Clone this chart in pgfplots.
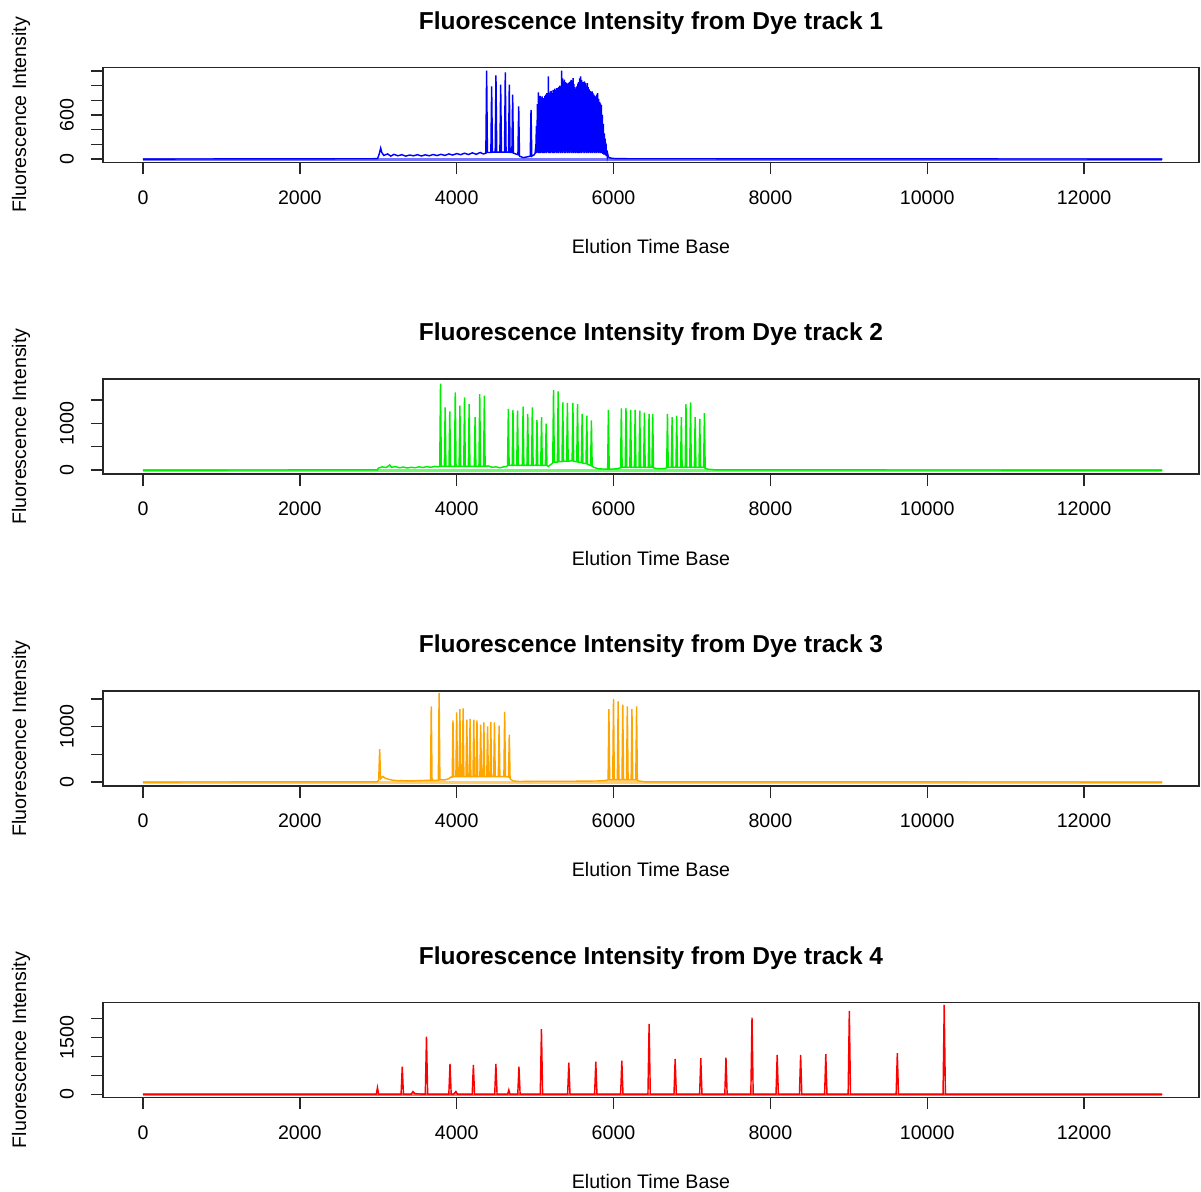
\documentclass[border=0pt]{standalone}
\usepackage{pgfplots}
\pgfplotsset{compat=1.18}
\usepackage{fontspec}
\setmainfont{Liberation Sans}

\definecolor{rblue}{HTML}{0000FF}
\definecolor{rgreen}{HTML}{00EE00}
\definecolor{rorange}{HTML}{FFA500}
\definecolor{rred}{HTML}{FF0000}

\pgfplotsset{
  dye/.style={
    scale only axis, width=548pt, height=47.5pt, anchor=south west,
    xmin=-510, xmax=13466,
    xtick={0,2000,...,12000},
    scaled ticks=false,
    /pgf/number format/assume math mode=true,
    /pgf/number format/1000 sep={},
    tick align=outside, major tick length=6pt,
    axis line style={line width=0.8pt, black!85},
    tick style={line width=0.7pt, black!85},
    xtick pos=bottom, ytick pos=left,
    tick label style={font=\fontsize{9.8}{11}\selectfont},
    xticklabel style={anchor=center, yshift=-11.5pt},
    yticklabel style={xshift=-12pt, rotate=90, anchor=center},
    every axis title/.style={at={(axis description cs:0.5,1)}, anchor=center, yshift=22.3pt,
      font=\bfseries\fontsize{12.25}{14}\selectfont},
    xlabel={Elution Time Base},
    ylabel={Fluorescence Intensity},
    every axis x label/.style={at={(axis description cs:0.5,0)}, anchor=center, yshift=-42pt,
      font=\fontsize{9.8}{11}\selectfont},
    every axis y label/.style={at={(axis description cs:0,0.5)}, xshift=-41pt, rotate=90, anchor=center,
      font=\fontsize{9.8}{11}\selectfont},
  },
  trace/.style={line width=0.72pt, #1},
  base/.style={line width=1.5pt, #1!55!white},
}

\begin{document}
\begin{tikzpicture}

% track 1
\begin{axis}[dye, at={(51.5pt,514.8pt)},
  title={Fluorescence Intensity from Dye track 1},
  ymin=-45, ymax=1250, ytick={0,200,...,1200}, yticklabels={0,,,600,,,}]
\addplot[base=rblue] coordinates {(0,0)(13000,0)};
\addplot[trace=rblue] coordinates {
(0,0)(2990,5)(3010,60)(3031,150)(3045,90)(3070,50)(3120,70)(3160,40)(3200,65)(3250,45)
(3300,60)(3350,40)(3400,55)(3450,45)(3500,60)(3550,42)(3600,58)(3650,45)(3700,62)(3750,48)
(3800,65)(3850,50)(3900,70)(3950,55)(4000,75)(4050,60)(4100,80)(4150,62)(4200,85)(4250,65)
(4300,90)(4340,70)(4372,80)(4382,1205)(4392,90)(4436,90)(4446,991)(4456,95)(4491,95)(4501,1141)
(4511,95)(4551,95)(4561,1014)(4571,95)(4610,95)(4620,1183)(4630,95)(4661,95)(4671,1014)(4681,90)
(4704,90)(4714,877)(4724,80)(4781,60)(4791,717)(4801,40)(4850,20)(4900,30)(4938,40)(4948,671)
(4958,40)(4990,60)(5000,80)(5011,200)
(5017,450)(5023,80)(5029,750)(5035,90)(5041,909)(5047,80)(5053,820)(5059,90)(5065,860)(5071,80)
(5077,840)(5083,90)(5089,854)(5095,80)(5101,800)(5107,100)(5113,830)(5119,80)(5125,860)(5131,90)
(5137,880)(5143,80)(5149,900)(5155,100)(5161,870)(5165,90)(5169,1128)(5175,80)(5181,900)(5187,90)
(5193,920)(5199,80)(5205,930)(5211,100)(5217,900)(5223,80)(5229,945)(5235,90)(5241,930)(5247,80)
(5253,960)(5259,100)(5265,940)(5271,80)(5277,968)(5283,90)(5289,950)(5295,80)(5301,980)(5307,100)
(5313,1000)(5319,80)(5325,990)(5332,90)(5339,1205)(5345,80)(5351,1100)(5357,100)(5363,1060)(5369,80)
(5375,1082)(5381,90)(5387,1050)(5393,80)(5399,1040)(5405,100)(5411,1020)(5417,80)(5424,1037)(5430,90)
(5436,1050)(5442,80)(5448,1060)(5454,100)(5460,1080)(5466,80)(5472,1070)(5478,90)(5484,1105)(5490,80)
(5496,1020)(5502,100)(5508,980)(5514,80)(5520,960)(5526,90)(5532,990)(5538,80)(5544,1030)(5550,100)
(5556,1050)(5562,80)(5568,1100)(5574,90)(5581,1128)(5587,80)(5593,1080)(5599,100)(5605,1050)(5611,80)
(5617,1040)(5623,90)(5629,1059)(5635,80)(5641,1040)(5647,100)(5653,1000)(5659,80)(5666,1037)(5672,90)
(5678,980)(5684,80)(5690,950)(5696,100)(5702,930)(5708,80)(5714,920)(5720,90)(5726,922)(5732,80)
(5738,900)(5744,100)(5750,880)(5756,80)(5762,860)(5768,90)(5774,850)(5780,80)(5786,880)(5792,100)
(5798,900)(5804,80)(5810,820)(5816,90)(5822,780)(5828,80)(5834,760)(5840,90)(5846,740)(5852,80)
(5858,600)(5864,70)(5870,480)(5876,60)(5882,350)(5888,60)(5894,280)(5899,50)(5904,215)(5910,40)
(5916,120)(5922,30)(5928,60)(5934,30)(5945,20)(5980,10)(6050,5)(13000,0)};
\end{axis}

% track 2
\begin{axis}[dye, at={(51.5pt,358.95pt)},
  title={Fluorescence Intensity from Dye track 2},
  ymin=-85, ymax=1949, ytick={0,500,1000,1500}, yticklabels={0,,1000,}]
\addplot[base=rgreen] coordinates {(0,0)(13000,0)};
\addplot[trace=rgreen] coordinates {
(0,0)(2990,5)(3000,40)(3050,70)(3100,55)(3147,110)(3170,60)(3220,75)(3270,50)(3320,65)
(3370,45)(3420,60)(3470,50)(3520,70)(3570,55)(3620,75)(3670,60)(3720,80)(3760,70)
(3784,80)(3794,1852)(3804,80)(3843,80)(3853,1345)(3863,80)(3902,80)(3912,1260)(3922,80)
(3972,80)(3982,1662)(3992,80)(4031,80)(4041,1380)(4051,80)(4090,80)(4100,1556)(4110,80)
(4149,80)(4159,1415)(4169,80)(4225,80)(4235,1134)(4245,80)(4284,80)(4294,1627)(4304,80)
(4343,80)(4353,1592)(4363,80)(4400,90)(4450,60)(4500,70)(4550,50)(4600,70)(4640,80)
(4649,100)(4659,1310)(4669,100)(4708,100)(4718,1289)(4728,100)(4766,100)(4776,1275)(4786,100)
(4837,100)(4847,1359)(4857,100)(4896,100)(4906,1204)(4916,100)(4955,100)(4965,1345)(4975,100)
(5014,100)(5024,1077)(5034,100)(5072,100)(5082,1134)(5092,100)(5131,100)(5141,993)(5151,100)
(5170,80)(5200,120)(5225,150)(5235,1711)(5245,170)(5284,170)(5294,1683)(5304,180)
(5343,180)(5353,1451)(5363,190)(5402,190)(5412,1437)(5422,190)(5472,200)(5482,1437)(5492,190)
(5531,180)(5541,1415)(5551,170)(5590,160)(5600,1204)(5610,150)(5649,140)(5659,1169)(5669,120)
(5708,100)(5718,1063)(5728,80)(5750,60)(5800,30)(5900,20)(5925,20)(5935,1289)(5945,20)
(5970,20)(6050,30)(6090,50)(6100,1324)(6110,60)(6149,60)(6159,1331)(6169,60)(6208,60)(6218,1289)
(6228,60)(6266,60)(6276,1289)(6286,60)(6325,60)(6335,1275)(6345,60)(6384,60)(6394,1232)(6404,60)
(6443,60)(6453,1204)(6463,60)(6490,60)(6500,1204)(6510,50)(6550,30)(6650,30)
(6678,50)(6688,1204)(6698,60)(6737,60)(6747,1134)(6757,60)(6796,60)(6806,1169)(6816,60)
(6855,60)(6865,1134)(6875,60)(6914,60)(6924,1415)(6934,60)(6972,60)(6982,1451)(6992,60)
(7031,60)(7041,1134)(7051,60)(7090,60)(7100,1099)(7110,60)(7149,60)(7159,1218)(7169,40)
(7200,20)(7300,5)(13000,0)};
\end{axis}

% track 3
\begin{axis}[dye, at={(51.5pt,203.1pt)},
  title={Fluorescence Intensity from Dye track 3},
  ymin=-67, ymax=1648, ytick={0,500,1000,1500}, yticklabels={0,,1000,}]
\addplot[base=rorange] coordinates {(0,0)(13000,0)};
\addplot[trace=rorange] coordinates {
(0,0)(2990,5)(3006,40)(3018,596)(3030,60)(3060,100)(3090,70)(3130,50)(3200,30)(3300,25)
(3400,20)(3500,25)(3600,30)(3666,30)(3676,1367)(3686,30)(3766,30)(3776,1608)(3786,40)
(3850,40)(3900,60)(3924,90)
(3943,90)(3953,1114)(3963,100)(3990,100)(4000,1259)(4010,100)(4031,100)(4041,1319)(4051,100)
(4072,100)(4082,1331)(4092,100)(4119,100)(4129,1127)(4139,100)(4161,100)(4171,1139)(4181,100)
(4208,100)(4218,1127)(4228,100)(4249,100)(4259,1114)(4269,100)(4296,100)(4306,1036)(4316,100)
(4337,100)(4347,1078)(4357,100)(4384,100)(4394,1006)(4404,100)(4425,100)(4435,1084)(4445,100)
(4472,100)(4482,1078)(4492,100)(4531,100)(4541,1018)(4551,100)(4602,100)(4612,1265)(4622,100)
(4661,90)(4671,855)(4681,60)(4720,20)(4800,10)(5000,15)(5500,15)(5800,20)(5900,30)
(5931,40)(5941,1319)(5951,40)(5990,40)(6000,1500)(6010,40)(6049,40)(6059,1458)(6069,40)
(6108,40)(6118,1398)(6128,40)(6166,40)(6176,1367)(6186,40)(6225,40)(6235,1319)(6245,40)
(6284,40)(6294,1367)(6304,30)(6320,20)(6400,5)(13000,0)};
\end{axis}

% track 4
\begin{axis}[dye, at={(51.5pt,47.25pt)},
  title={Fluorescence Intensity from Dye track 4},
  ymin=-86, ymax=2416, ytick={0,500,1000,1500,2000}, yticklabels={0,,,1500,}]
\addplot[base=rred] coordinates {(0,0)(13000,0)};
\addplot[trace=rred] coordinates {
(0,0)(2975,0)(2990,175)(3005,0)(3291,0)(3306,728)(3321,0)(3420,0)(3442,70)(3470,10)
(3600,0)(3615,1518)(3630,0)(3900,0)(3915,798)(3930,0)(3960,0)(3990,70)(4010,0)
(4198,0)(4213,772)(4228,0)(4485,0)(4500,798)(4515,0)(4650,0)(4665,114)(4680,0)
(4779,0)(4794,728)(4809,0)(5066,0)(5081,1711)(5096,0)(5415,0)(5430,833)(5445,0)
(5759,0)(5774,860)(5789,0)(6091,0)(6106,886)(6121,0)(6439,0)(6454,1851)(6469,0)
(6771,0)(6786,930)(6801,0)(7098,0)(7113,947)(7128,0)(7419,0)(7434,965)(7449,0)
(7751,0)(7766,2018)(7781,0)(8072,0)(8087,1035)(8102,0)(8371,0)(8386,1035)(8401,0)
(8692,0)(8707,1053)(8722,0)(8992,0)(9007,2193)(9022,0)(9604,0)(9619,1079)(9634,0)
(10202,0)(10217,2351)(10232,0)(13000,0)};
\end{axis}

\pgfresetboundingbox
\path[use as bounding box] (0,0) rectangle (600.5pt,596pt);
\end{tikzpicture}
\end{document}
